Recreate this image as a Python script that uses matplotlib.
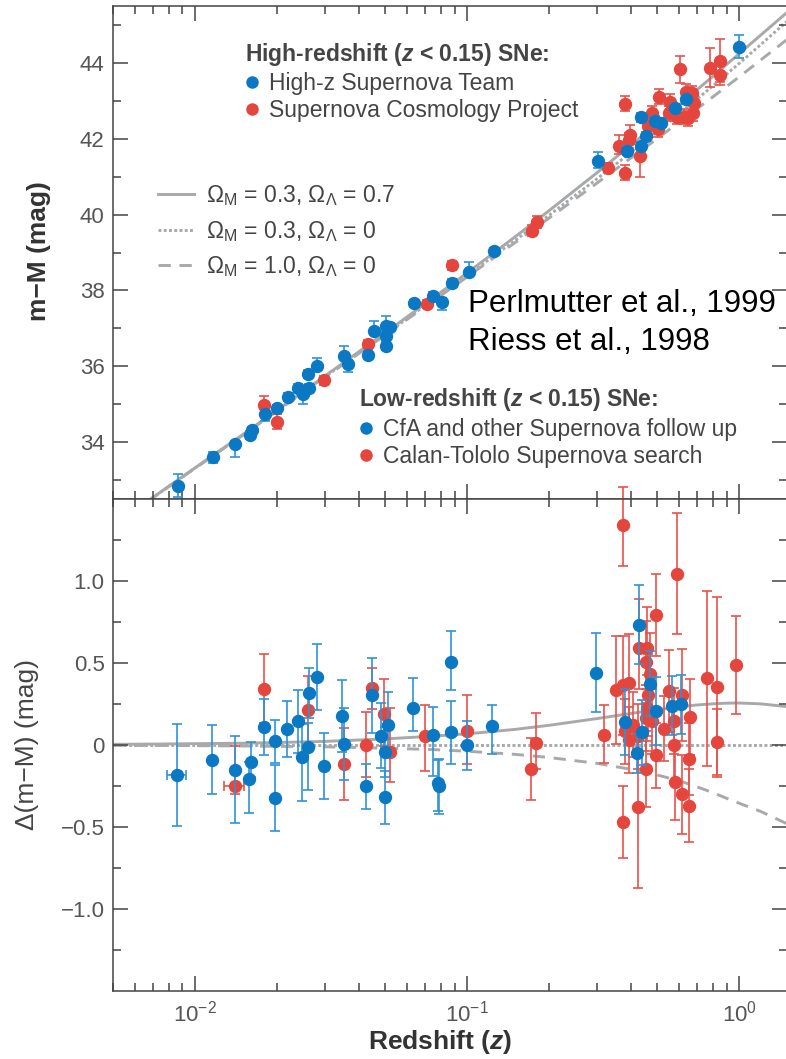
import numpy as np
import matplotlib
matplotlib.use("Agg")
import matplotlib.pyplot as plt
from matplotlib.lines import Line2D
from matplotlib.ticker import LogLocator, MultipleLocator, NullFormatter, FixedLocator, FixedFormatter

plt.rcParams['font.family'] = ['Liberation Sans', 'DejaVu Sans']
plt.rcParams['mathtext.fontset'] = 'custom'
plt.rcParams['mathtext.rm'] = 'Liberation Sans'
plt.rcParams['mathtext.it'] = 'Liberation Sans:italic:bold'
plt.rcParams['mathtext.bf'] = 'Liberation Sans:bold'

# ---------------- data ----------------
# model curves
z_model = [0.005, 0.0075, 0.01, 0.015, 0.02, 0.03, 0.05, 0.075, 0.1, 0.15, 0.2,
           0.3, 0.4, 0.5, 0.6, 0.7, 0.8, 0.9, 1.0, 1.2, 1.5]
mu_lambda = [31.80, 32.69, 33.32, 34.20, 34.84, 35.74, 36.88, 37.80, 38.46, 39.41, 40.10,
             41.10, 41.83, 42.40, 42.88, 43.29, 43.64, 43.96, 44.24, 44.73, 45.33]
dmu_lambda = [0.004, 0.006, 0.008, 0.011, 0.015, 0.022, 0.037, 0.054, 0.068, 0.095, 0.120,
              0.161, 0.192, 0.215, 0.232, 0.244, 0.251, 0.255, 0.256, 0.251, 0.234]
dmu_matter = [-0.002, -0.003, -0.004, -0.006, -0.008, -0.011, -0.019, -0.028, -0.038, -0.057, -0.076,
              -0.112, -0.148, -0.183, -0.217, -0.255, -0.29, -0.325, -0.355, -0.405, -0.48]

# upper panel: blue (High-z team + CfA)
top_blue_z = [0.00866, 0.01165, 0.0140, 0.01592, 0.01627, 0.0181, 0.01995, 0.0220, 0.02399, 0.02504,
              0.02636, 0.0261, 0.0280, 0.0352, 0.0365, 0.0432, 0.0454, 0.0506, 0.0523, 0.0506,
              0.0506, 0.0639, 0.0747, 0.0809, 0.0881, 0.102, 0.1256,
              0.3034, 0.386, 0.436, 0.436, 0.455, 0.489, 0.517, 0.582, 0.637, 0.997]
top_blue_mu = [32.85, 33.60, 33.95, 34.20, 34.31, 34.73, 34.89, 35.19, 35.42, 35.28,
               35.42, 35.79, 36.01, 36.28, 36.06, 36.30, 36.94, 37.07, 37.04, 36.80,
               36.54, 37.66, 37.86, 37.69, 38.19, 38.48, 39.03,
               41.42, 41.68, 42.56, 41.80, 42.07, 42.47, 42.42, 42.80, 43.04, 44.43]
top_blue_lo = [0.30, 0.15, 0.34, 0.12, 0.10, 0.18, 0.10, 0.10, 0.10, 0.28,
               0.10, 0.10, 0.10, 0.10, 0.22, 0.10, 0.10, 0.10, 0.10, 0.10,
               0.10, 0.10, 0.10, 0.20, 0.10, 0.10, 0.10,
               0.20, 0.12, 0.12, 0.12, 0.12, 0.12, 0.12, 0.12, 0.12, 0.30]
top_blue_hi = [0.30, 0.15, 0.08, 0.10, 0.10, 0.10, 0.10, 0.10, 0.10, 0.10,
               0.10, 0.10, 0.20, 0.25, 0.10, 0.10, 0.25, 0.25, 0.10, 0.10,
               0.10, 0.10, 0.10, 0.10, 0.10, 0.26, 0.10,
               0.24, 0.12, 0.12, 0.12, 0.12, 0.12, 0.12, 0.12, 0.12, 0.30]

# upper panel: red (SCP + Calan-Tololo)
top_red_z = [0.01799, 0.01995, 0.0299, 0.0432, 0.0711, 0.0881, 0.1738, 0.181,
             0.330, 0.380, 0.380, 0.361, 0.397, 0.393, 0.433, 0.478, 0.462, 0.509, 0.505,
             0.558, 0.551, 0.590, 0.625, 0.637, 0.671, 0.680, 0.678, 0.650, 0.607,
             0.780, 0.849, 0.853]
top_red_mu = [34.98, 34.54, 35.63, 36.58, 37.64, 38.66, 39.58, 39.80,
              41.24, 42.92, 41.10, 41.80, 42.10, 41.96, 41.54, 42.67, 42.33, 43.11, 42.25,
              42.98, 42.67, 42.58, 42.58, 43.24, 43.20, 42.93, 42.67, 42.54, 43.83,
              43.86, 44.06, 43.68]
top_red_lo = [0.10, 0.20, 0.12, 0.10, 0.10, 0.12, 0.15, 0.15,
              0.12, 0.20, 0.20, 0.20, 0.25, 0.20, 0.55, 0.20, 0.20, 0.20, 0.20,
              0.20, 0.20, 0.20, 0.20, 0.20, 0.20, 0.20, 0.20, 0.20, 0.35,
              0.50, 0.56, 0.25]
top_red_hi = [0.24, 0.20, 0.12, 0.10, 0.10, 0.12, 0.15, 0.15,
              0.12, 0.20, 0.20, 0.30, 0.25, 0.20, 0.20, 0.20, 0.20, 0.20, 0.20,
              0.20, 0.20, 0.20, 0.20, 0.20, 0.20, 0.20, 0.20, 0.20, 0.35,
              0.53, 0.56, 0.25]

# lower panel: residuals, blue
bot_blue_z = [0.00861, 0.01158, 0.01400, 0.01601, 0.01582, 0.01787, 0.01976, 0.01976, 0.0218, 0.0240,
              0.0247, 0.0262, 0.0260, 0.0280, 0.0297, 0.0348, 0.0354, 0.0425, 0.0449, 0.0483,
              0.0511, 0.0501, 0.0501, 0.0632, 0.0749, 0.0781, 0.0791, 0.0875, 0.0871, 0.1002,
              0.1235,
              0.299, 0.430, 0.472, 0.497, 0.381, 0.440, 0.423, 0.569, 0.614]
bot_blue_d = [-0.182, -0.090, -0.155, -0.104, -0.206, 0.108, 0.022, -0.324, 0.097, 0.144,
              -0.074, 0.317, -0.013, 0.415, -0.127, 0.179, 0.006, -0.253, 0.303, 0.057,
              0.124, -0.043, -0.320, 0.226, 0.059, -0.233, -0.253, 0.507, 0.077, -0.002,
              0.114,
              0.441, 0.733, 0.375, 0.207, 0.140, 0.077, -0.050, 0.240, 0.248]
bot_blue_lo = [0.31, 0.21, 0.32, 0.09, 0.21, 0.17, 0.13, 0.20, 0.17, 0.19,
               0.27, 0.15, 0.26, 0.20, 0.20, 0.22, 0.22, 0.14, 0.23, 0.20,
               0.20, 0.15, 0.16, 0.14, 0.25, 0.17, 0.17, 0.17, 0.19, 0.15,
               0.17,
               0.24, 0.24, 0.20, 0.21, 0.20, 0.20, 0.12, 0.18, 0.18]
bot_blue_hi = [0.31, 0.21, 0.21, 0.12, 0.10, 0.17, 0.13, 0.20, 0.17, 0.19,
               0.20, 0.15, 0.15, 0.20, 0.20, 0.22, 0.22, 0.14, 0.23, 0.20,
               0.20, 0.15, 0.16, 0.18, 0.17, 0.14, 0.17, 0.19, 0.19, 0.15,
               0.13,
               0.24, 0.24, 0.20, 0.21, 0.20, 0.20, 0.12, 0.18, 0.18]
bot_blue_xerr = [0.0007] + [0.0] * 39

# lower panel: residuals, red
bot_red_z = [0.0140, 0.01787, 0.0260, 0.0354, 0.0425, 0.0449, 0.0496, 0.0521, 0.0701, 0.1002,
             0.1717, 0.179,
             0.373, 0.590, 0.496, 0.430, 0.459, 0.454, 0.393, 0.373, 0.353, 0.469,
             0.463, 0.320, 0.373, 0.424, 0.455, 0.494, 0.531, 0.553, 0.577, 0.577,
             0.582, 0.406, 0.395, 0.424, 0.455, 0.480, 0.460, 0.382, 0.760, 0.828,
             0.828, 0.973, 0.619, 0.659, 0.655, 0.616, 0.655]
bot_red_d = [-0.249, 0.344, 0.211, -0.117, 0.002, 0.348, 0.191, -0.043, 0.053, 0.083,
             -0.147, 0.013,
             1.342, 1.045, 0.792, 0.592, 0.592, 0.507, 0.379, 0.364, 0.334, 0.433,
             0.303, 0.063, -0.471, -0.381, -0.147, -0.064, 0.100, 0.328, 0.148, 0.002,
             -0.227, 0.124, 0.032, 0.053, 0.165, 0.144, 0.226, 0.083, 0.409, 0.352,
             0.018, 0.487, 0.307, 0.171, -0.086, -0.300, -0.369]
bot_red_lo = [0.05, 0.21, 0.21, 0.22, 0.20, 0.13, 0.20, 0.18, 0.21, 0.20,
              0.19, 0.16,
              0.25, 0.37, 0.25, 0.25, 0.25, 0.25, 0.30, 0.30, 0.33, 0.25,
              0.25, 0.17, 0.22, 0.49, 0.23, 0.20, 0.20, 0.25, 0.20, 0.22,
              0.23, 0.20, 0.20, 0.20, 0.20, 0.20, 0.20, 0.20, 0.54, 0.55,
              0.20, 0.30, 0.28, 0.23, 0.22, 0.24, 0.22]
bot_red_hi = [0.24, 0.21, 0.21, 0.22, 0.20, 0.12, 0.21, 0.27, 0.19, 0.22,
              0.19, 0.18,
              0.23, 0.37, 0.25, 0.30, 0.25, 0.25, 0.30, 0.30, 0.33, 0.25,
              0.25, 0.18, 0.22, 0.49, 0.23, 0.20, 0.20, 0.25, 0.20, 0.22,
              0.23, 0.20, 0.20, 0.20, 0.20, 0.20, 0.20, 0.20, 0.53, 0.55,
              0.20, 0.30, 0.28, 0.23, 0.22, 0.24, 0.22]
bot_red_xerr = [0.0012] + [0.0] * 48

# ---------------- style ----------------
BLUE = '#0b78c4'
BLUE_E = '#2f93d6'
RED = '#e4463d'
RED_E = '#e8524b'
GRAY = '#a8a9ab'
TXT = '#444444'
TICK = '#555555'

W, H = 786, 1059
fig = plt.figure(figsize=(W / 100, H / 100), dpi=100)
L = 113 / W
R = 787 / W
ax1 = fig.add_axes([L, 1 - 499 / H, R - L, (499 - 6) / H])
ax2 = fig.add_axes([L, 1 - 991 / H, R - L, (991 - 499) / H])

zm = np.array(z_model)
mu_l = np.array(mu_lambda)
d_l = np.array(dmu_lambda)
d_m = np.array(dmu_matter)
mu_open = mu_l - d_l
mu_eds = mu_open + d_m

LW = 2.1
ls_dot = (0, (1.0, 0.8))
ls_dash = (0, (4.2, 3.0))

# upper panel curves
ax1.plot(zm, mu_eds, color=GRAY, lw=LW, ls=ls_dash, zorder=1)
ax1.plot(zm, mu_open, color=GRAY, lw=LW, ls=ls_dot, zorder=1)
ax1.plot(zm, mu_l, color=GRAY, lw=LW, ls='-', zorder=1)

# lower panel curves
ax2.plot(zm, d_m, color=GRAY, lw=LW, ls=ls_dash, zorder=1)
ax2.plot(zm, np.zeros_like(zm), color=GRAY, lw=LW, ls=ls_dot, zorder=1)
ax2.plot(zm, d_l, color=GRAY, lw=LW, ls='-', zorder=1)

ekw = dict(fmt='o', ms=8.6, elinewidth=1.2, capsize=3.8, capthick=1.2)

ax1.errorbar(top_red_z, top_red_mu, yerr=[top_red_lo, top_red_hi], color=RED, ecolor=RED_E,
             mec=RED, mfc=RED, zorder=2, **ekw)
ax1.errorbar(top_blue_z, top_blue_mu, yerr=[top_blue_lo, top_blue_hi], color=BLUE, ecolor=BLUE_E,
             mec=BLUE, mfc=BLUE, zorder=3, **ekw)

e_r = ax2.errorbar(bot_red_z, bot_red_d, yerr=[bot_red_lo, bot_red_hi], xerr=bot_red_xerr,
                   color=RED, ecolor=RED_E, mec=RED, mfc=RED, zorder=2, **ekw)
e_b = ax2.errorbar(bot_blue_z, bot_blue_d, yerr=[bot_blue_lo, bot_blue_hi], xerr=bot_blue_xerr,
                   color=BLUE, ecolor=BLUE_E, mec=BLUE, mfc=BLUE, zorder=3, **ekw)
for cont in (e_r, e_b):
    for art in tuple(cont.lines[1]) + tuple(cont.lines[2]):
        art.set_clip_on(False)

# axes formatting
for ax in (ax1, ax2):
    ax.set_xscale('log')
    ax.set_xlim(0.005, 1.5)
    ax.xaxis.set_major_locator(LogLocator(base=10, numticks=10))
    ax.xaxis.set_minor_locator(LogLocator(base=10, subs=np.arange(2, 10), numticks=10))
    ax.xaxis.set_minor_formatter(NullFormatter())
    ax.tick_params(which='both', direction='in', top=True, right=True, color='#444444',
                   labelcolor=TICK, labelsize=16, width=1.1)
    ax.tick_params(which='major', length=10.5, pad=6)
    ax.tick_params(which='minor', length=5.5)
    for s in ax.spines.values():
        s.set_linewidth(1.1)
        s.set_color('#444444')

ax1.set_ylim(32.5, 45.5)
ax1.yaxis.set_major_locator(MultipleLocator(2))
ax1.yaxis.set_minor_locator(MultipleLocator(1))
ax1.tick_params(axis='x', labelbottom=False)

ax2.set_ylim(-1.5, 1.5)
ax2.yaxis.set_major_locator(FixedLocator([-1.0, -0.5, 0.0, 0.5, 1.0]))
ax2.yaxis.set_major_formatter(FixedFormatter(['\u22121.0', '\u22120.5', '0', '0.5', '1.0']))
ax2.yaxis.set_minor_locator(FixedLocator([-1.25, -0.75, -0.25, 0.25, 0.75, 1.25]))
ax2.tick_params(axis='x', pad=7)

# axis labels
fig.text(39 / W, 1 - 251 / H, 'm\u2212M (mag)', rotation=90, ha='center', va='center',
         fontsize=19, fontweight='bold', color='#333333')
fig.text(27 / W, 1 - 745 / H, '\u0394(m\u2212M) (mag)', rotation=90, ha='center', va='center',
         fontsize=19, color='#444444')
fig.text(440 / W, 1 - 1042 / H, 'Redshift ($z$)', ha='center', va='center',
         fontsize=19, fontweight='bold', color='#333333')

# legends
FS = 16.5
h_blue = Line2D([], [], ls='none', marker='o', ms=9, mew=0, color=BLUE)
h_red = Line2D([], [], ls='none', marker='o', ms=9, mew=0, color=RED)

leg1 = ax1.legend([h_blue, h_red], ['High-z Supernova Team', 'Supernova Cosmology Project'],
                  title='High-redshift ($z$ < 0.15) SNe:', loc='upper left',
                  bbox_to_anchor=(245 / W, 1 - 41 / H), bbox_transform=fig.transFigure,
                  frameon=False, borderpad=0, borderaxespad=0, handlelength=0.63,
                  handletextpad=0.42, labelspacing=0.17, fontsize=FS,
                  title_fontproperties={'weight': 'bold', 'size': FS}, alignment='left',
                  labelcolor=TXT)
leg1.get_title().set_color(TXT)
ax1.add_artist(leg1)

h_s = Line2D([], [], color=GRAY, lw=LW, ls='-')
h_d = Line2D([], [], color=GRAY, lw=LW, ls=ls_dot)
h_m = Line2D([], [], color=GRAY, lw=LW, ls=ls_dash)
leg2 = ax1.legend([h_s, h_d, h_m],
                  ['\u03a9$_{\\mathrm{M}}$ = 0.3, \u03a9$_{\\Lambda}$ = 0.7',
                   '\u03a9$_{\\mathrm{M}}$ = 0.3, \u03a9$_{\\Lambda}$ = 0',
                   '\u03a9$_{\\mathrm{M}}$ = 1.0, \u03a9$_{\\Lambda}$ = 0'],
                  loc='upper left', bbox_to_anchor=(158 / W, 1 - 183 / H),
                  bbox_transform=fig.transFigure, frameon=False, borderpad=0, borderaxespad=0,
                  handlelength=1.58, handletextpad=0.5, labelspacing=0.47, fontsize=FS,
                  labelcolor=TXT)
ax1.add_artist(leg2)

leg3 = ax1.legend([h_blue, h_red], ['CfA and other Supernova follow up', 'Calan-Tololo Supernova search'],
                  title='Low-redshift ($z$ < 0.15) SNe:', loc='upper left',
                  bbox_to_anchor=(359 / W, 1 - 386 / H), bbox_transform=fig.transFigure,
                  frameon=False, borderpad=0, borderaxespad=0, handlelength=0.63,
                  handletextpad=0.42, labelspacing=0.2, fontsize=FS,
                  title_fontproperties={'weight': 'bold', 'size': FS}, alignment='left',
                  labelcolor=TXT)
leg3.get_title().set_color(TXT)

# references
fig.text(468 / W, 1 - 312 / H, 'Perlmutter et al., 1999', fontsize=22.5, color='black',
         va='baseline', ha='left')
fig.text(468 / W, 1 - 350 / H, 'Riess et al., 1998', fontsize=22.5, color='black',
         va='baseline', ha='left')

fig.savefig('out.png', dpi=100)
